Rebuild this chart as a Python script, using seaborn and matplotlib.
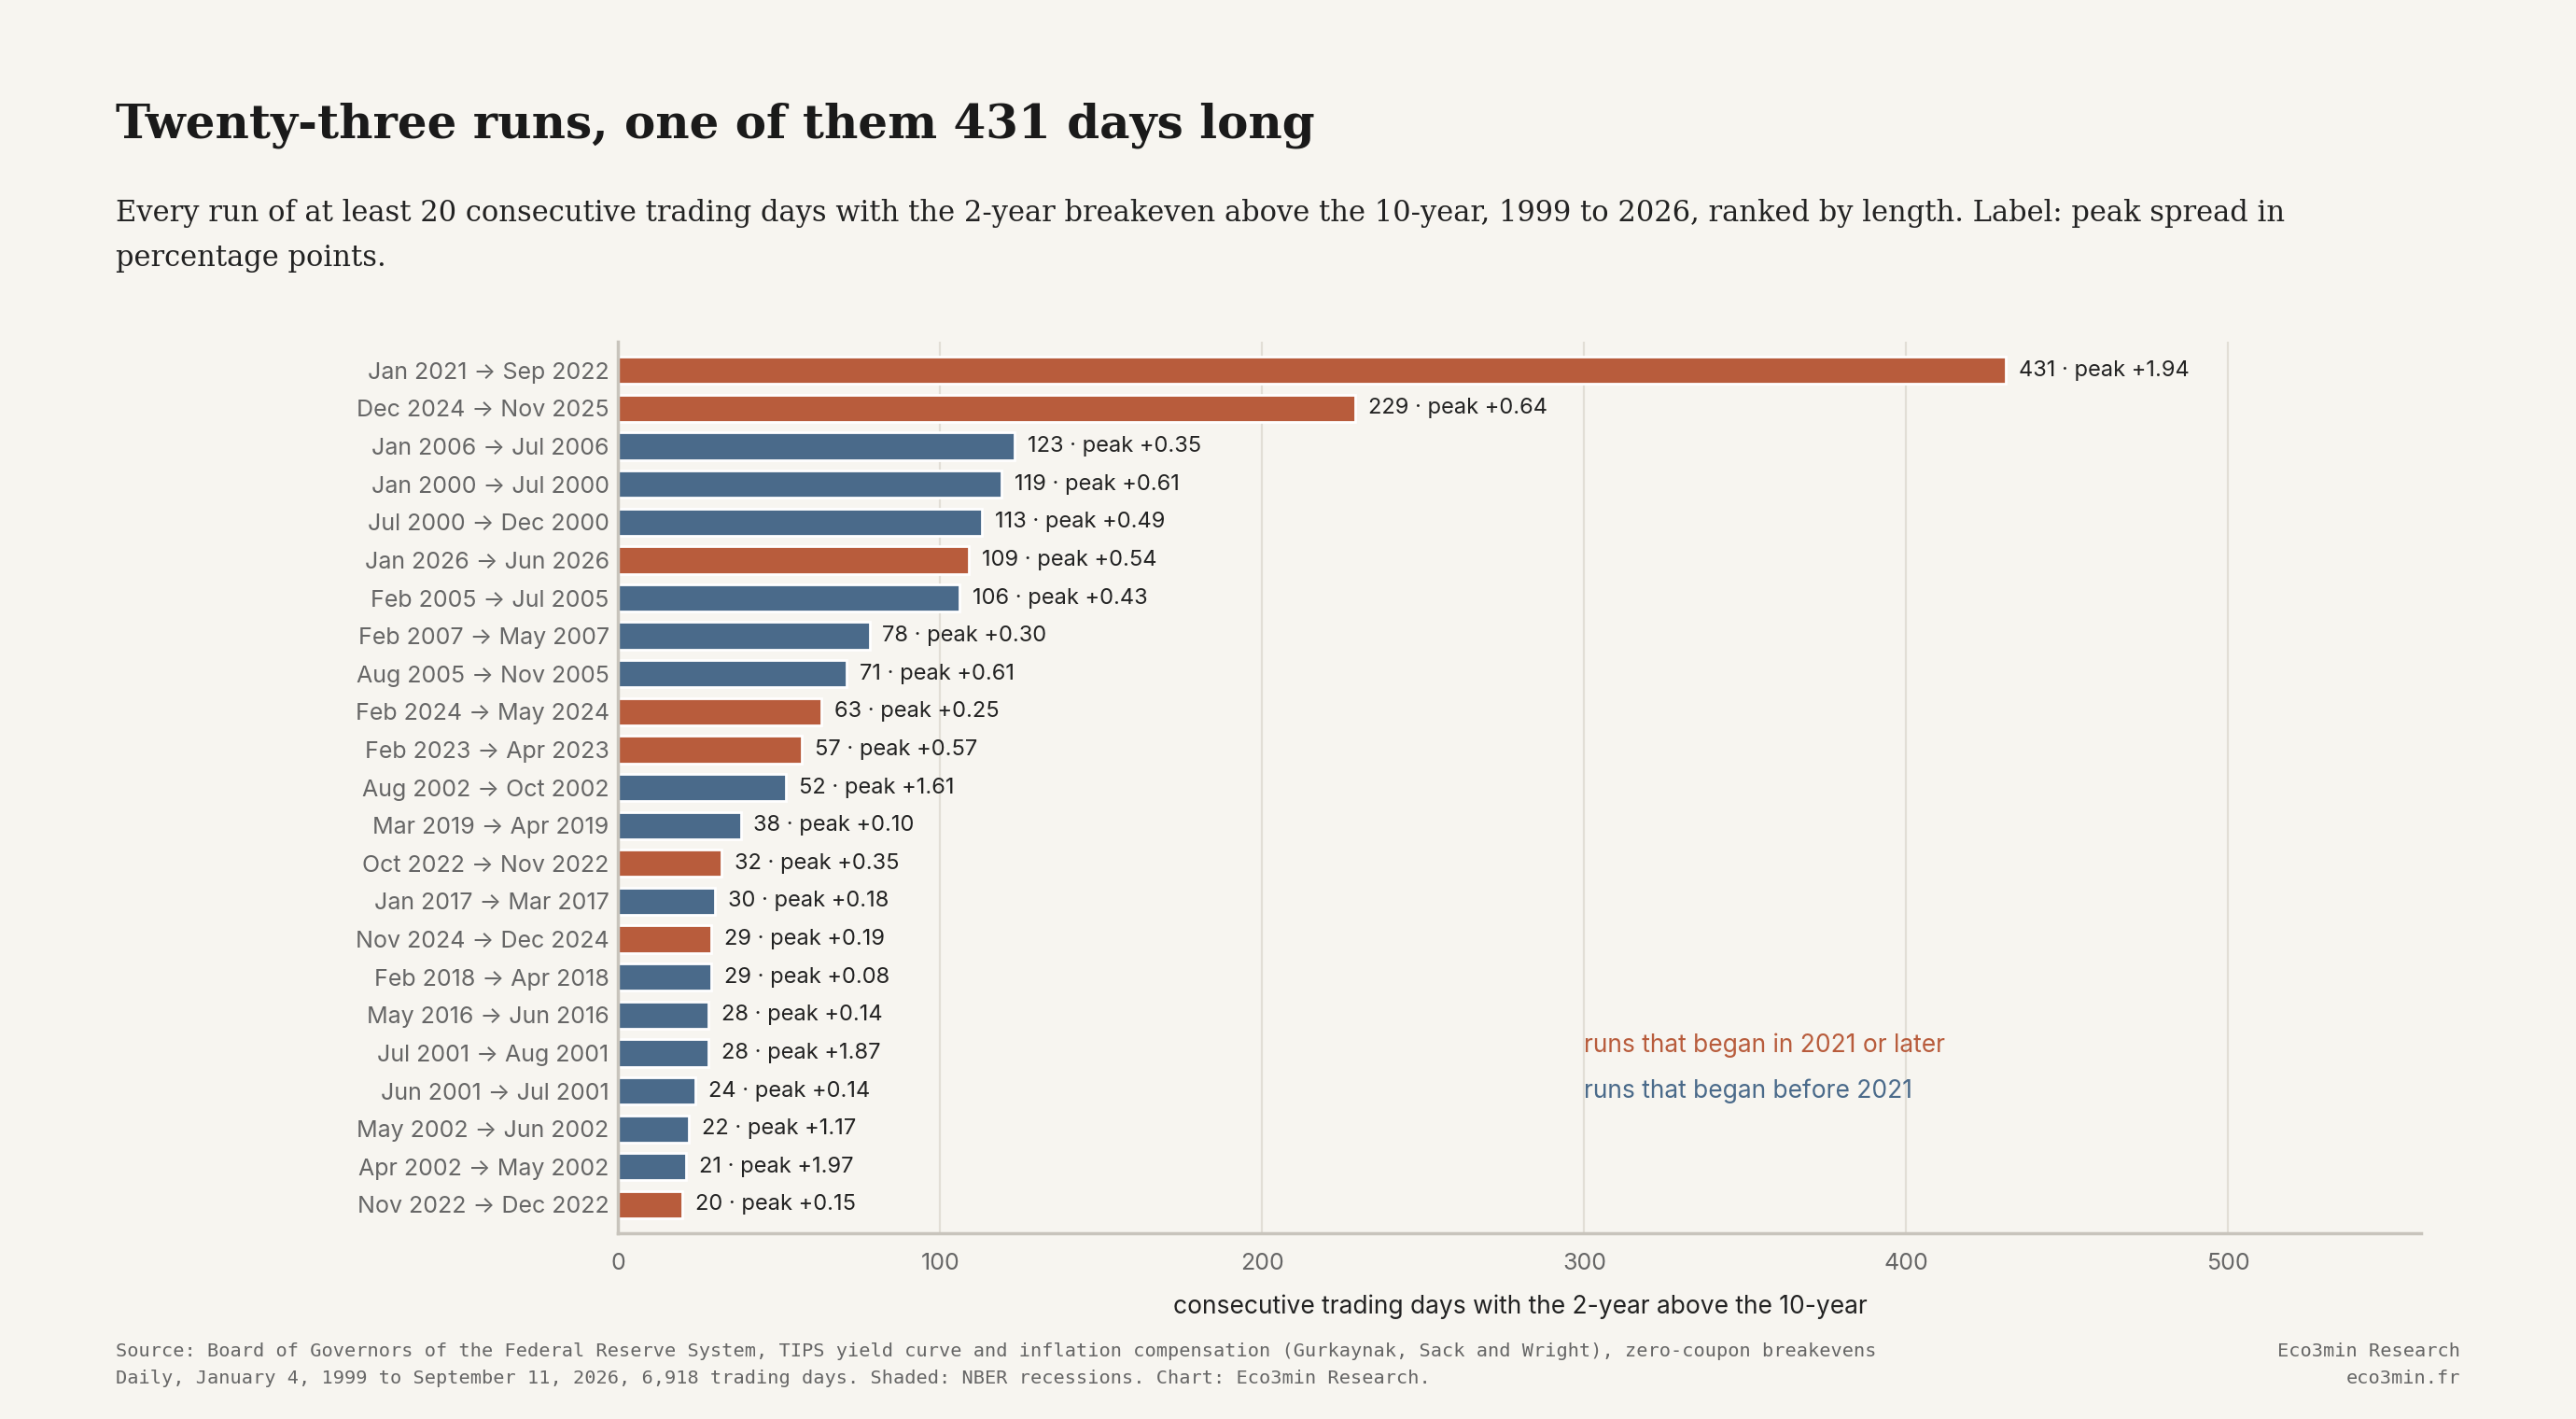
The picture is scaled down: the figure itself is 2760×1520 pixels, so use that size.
import matplotlib
matplotlib.use("Agg")
import matplotlib.pyplot as plt
import seaborn as sns
import pandas as pd

runs = ["Jan 2021 → Sep 2022", "Dec 2024 → Nov 2025", "Jan 2006 → Jul 2006", "Jan 2000 → Jul 2000",
        "Jul 2000 → Dec 2000", "Jan 2026 → Jun 2026", "Feb 2005 → Jul 2005", "Feb 2007 → May 2007",
        "Aug 2005 → Nov 2005", "Feb 2024 → May 2024", "Feb 2023 → Apr 2023", "Aug 2002 → Oct 2002",
        "Mar 2019 → Apr 2019", "Oct 2022 → Nov 2022", "Jan 2017 → Mar 2017", "Nov 2024 → Dec 2024",
        "Feb 2018 → Apr 2018", "May 2016 → Jun 2016", "Jul 2001 → Aug 2001", "Jun 2001 → Jul 2001",
        "May 2002 → Jun 2002", "Apr 2002 → May 2002", "Nov 2022 → Dec 2022"]
days = [431, 229, 123, 119, 113, 109, 106, 78, 71, 63, 57, 52, 38, 32, 30, 29, 29, 28, 28, 24, 22, 21, 20]
peaks = [1.94, 0.64, 0.35, 0.61, 0.49, 0.54, 0.43, 0.30, 0.61, 0.25, 0.57, 1.61, 0.10, 0.35, 0.18, 0.19,
         0.08, 0.14, 1.87, 0.14, 1.17, 1.97, 0.15]
recent = [True, True, False, False, False, True, False, False, False, True, True, False, False, True,
          False, True, False, False, False, False, False, False, True]

ORANGE = "#B85C3C"
BLUE = "#4A6A8A"
BG = "#F7F5F0"

df = pd.DataFrame({"run": runs, "days": days, "peak": peaks,
                   "group": ["recent" if r else "older" for r in recent]})

sns.set_theme(style="white")
plt.rcParams["font.family"] = ["Inter", "DejaVu Sans"]

fig = plt.figure(figsize=(13.8, 7.6), dpi=200, facecolor=BG)
ax = fig.add_axes([0.24, 0.131, 0.70, 0.628], facecolor=BG)

sns.barplot(data=df, x="days", y="run", hue="group", palette={"recent": ORANGE, "older": BLUE},
            dodge=False, legend=False, width=0.72, ax=ax, saturation=1)

for i, (d, p) in enumerate(zip(days, peaks)):
    ax.text(d + 4, i, f"{d} · peak +{p:.2f}", va="center", ha="left", fontsize=8.5, color="#222222")

ax.set_xlim(0, 560)
ax.set_ylim(22.75, -0.75)
ax.set_xticks([0, 100, 200, 300, 400, 500])
ax.grid(axis="x", color="#E2DED6", linewidth=0.8)
ax.set_axisbelow(True)
for s in ["top", "right"]:
    ax.spines[s].set_visible(False)
ax.spines["left"].set_color("#C8C4BC")
ax.spines["bottom"].set_color("#C8C4BC")
ax.tick_params(axis="both", labelsize=9, colors="#666666", length=0)
ax.tick_params(axis="x", length=4, color="#C8C4BC")
ax.set_ylabel("")
ax.set_xlabel("consecutive trading days with the 2-year above the 10-year", fontsize=9.5, color="#222222", labelpad=8)

ax.text(300, 17.8, "runs that began in 2021 or later", color=ORANGE, fontsize=9.5, va="center")
ax.text(300, 19.0, "runs that began before 2021", color=BLUE, fontsize=9.5, va="center")

fig.text(0.045, 0.912, "Twenty-three runs, one of them 431 days long", fontsize=18, fontweight="bold",
         family=["DejaVu Serif"], color="#1a1a1a", va="center")
fig.text(0.045, 0.834, "Every run of at least 20 consecutive trading days with the 2-year breakeven above the 10-year, 1999 to 2026, ranked by length. Label: peak spread in\npercentage points.",
         fontsize=11, family=["DejaVu Serif"], color="#222222", va="center", linespacing=1.7)

fig.text(0.045, 0.038, "Source: Board of Governors of the Federal Reserve System, TIPS yield curve and inflation compensation (Gurkaynak, Sack and Wright), zero-coupon breakevens\nDaily, January 4, 1999 to September 11, 2026, 6,918 trading days. Shaded: NBER recessions. Chart: Eco3min Research.",
         fontsize=7.3, family=["DejaVu Sans Mono"], color="#666666", va="center", linespacing=1.7)
fig.text(0.955, 0.038, "Eco3min Research\neco3min.fr", fontsize=7.3, family=["DejaVu Sans Mono"],
         color="#666666", va="center", ha="right", linespacing=1.7)

fig.savefig("out.png", dpi=200, facecolor=BG)
